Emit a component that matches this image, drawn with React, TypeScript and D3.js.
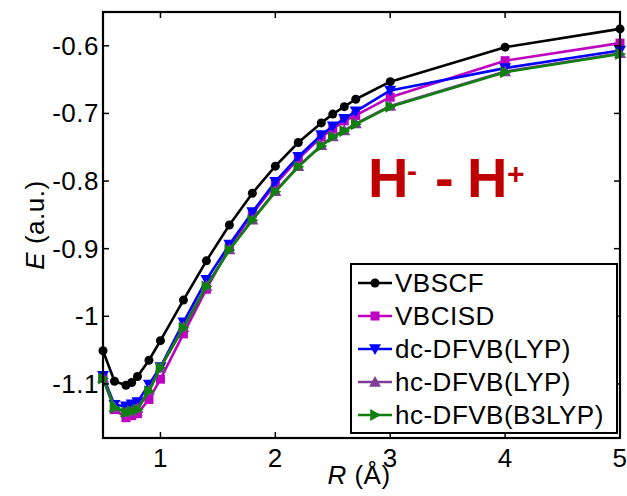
import React from "react";
import * as d3 from "d3";

// separation distances (Å)
const rValues = [0.5, 0.6, 0.7, 0.75, 0.8, 0.9, 1.0, 1.2, 1.4, 1.6, 1.8, 2.0, 2.2, 2.4, 2.5, 2.6, 2.7, 3.0, 4.0, 5.0];

// energies (a.u.)
const vbscf = [-1.051, -1.096, -1.102, -1.098, -1.089, -1.065, -1.036, -0.976, -0.918, -0.865, -0.818, -0.778, -0.743, -0.714, -0.701, -0.690, -0.679, -0.653, -0.602, -0.575];
const vbcisd = [-1.092, -1.138, -1.150, -1.147, -1.144, -1.123, -1.093, -1.026, -0.960, -0.898, -0.848, -0.805, -0.767, -0.735, -0.723, -0.711, -0.703, -0.676, -0.622, -0.596];
const dcLyp = [-1.088, -1.131, -1.133, -1.130, -1.127, -1.101, -1.075, -1.009, -0.946, -0.894, -0.846, -0.801, -0.764, -0.732, -0.719, -0.708, -0.697, -0.666, -0.633, -0.607];
const hcLyp = [-1.091, -1.135, -1.142, -1.140, -1.136, -1.109, -1.076, -1.016, -0.955, -0.901, -0.857, -0.815, -0.778, -0.747, -0.734, -0.725, -0.715, -0.689, -0.638, -0.611];
const hcB3lyp = [-1.092, -1.135, -1.142, -1.140, -1.138, -1.111, -1.076, -1.017, -0.956, -0.902, -0.858, -0.816, -0.779, -0.748, -0.735, -0.726, -0.716, -0.690, -0.639, -0.612];

const xTicks = [1, 2, 3, 4, 5];
const yTicks = [-1.1, -1, -0.9, -0.8, -0.7, -0.6];
const yTickLabels = ["-1.1", "-1", "-0.9", "-0.8", "-0.7", "-0.6"];

const seriesNames = ["VBSCF", "VBCISD", "dc-DFVB(LYP)", "hc-DFVB(LYP)", "hc-DFVB(B3LYP)"];
const seriesValues = [vbscf, vbcisd, dcLyp, hcLyp, hcB3lyp];
const seriesColors = ["#000000", "#c000c0", "#0000ff", "#7f3f98", "#0f800f"];
const seriesMarkers = ["circle", "square", "down", "up", "right"];

const W = 627;
const H = 496;
const margin = { top: 12, right: 7, bottom: 58, left: 103 };
const FONT = "'Liberation Sans', Arial, sans-serif";
const FS = 26;
const LS = 0.5;

const Marker = ({ type, x, y, color }: { type: string; x: number; y: number; color: string }) => {
  const s = 6;
  if (type === "circle") return <circle cx={x} cy={y} r={4.5} fill={color} />;
  if (type === "square") return <rect x={x - 4.5} y={y - 4.5} width={9} height={9} fill={color} />;
  let pts: number[][] = [];
  if (type === "down") pts = [[x - s, y - s * 0.8], [x + s, y - s * 0.8], [x, y + s]];
  if (type === "up") pts = [[x - s, y + s * 0.8], [x + s, y + s * 0.8], [x, y - s]];
  if (type === "right") pts = [[x - s * 0.8, y - s], [x - s * 0.8, y + s], [x + s, y]];
  return <polygon points={pts.map((p) => p.join(",")).join(" ")} fill={color} />;
};

export default function App() {
  const x = d3.scaleLinear().domain([0.5, 5]).range([margin.left, W - margin.right]);
  const y = d3.scaleLinear().domain([-1.18, -0.55]).range([H - margin.bottom, margin.top]);
  const line = d3
    .line<number>()
    .x((_, i) => x(rValues[i]))
    .y((d) => y(d));

  const x0 = margin.left;
  const x1 = W - margin.right;
  const y0 = margin.top;
  const y1 = H - margin.bottom;
  const tick = 6;

  const legX = 351;
  const legY = 264;
  const legW = 266;
  const legH = 169;
  const legRows = [283, 316, 349, 382, 415];

  return (
    <svg width={W} height={H} style={{ position: "absolute", left: 0, top: 0, background: "#fff" }} fontFamily={FONT}>
      {/* series */}
      {seriesValues.map((vals, k) => (
        <g key={k}>
          <path d={line(vals) || ""} fill="none" stroke={seriesColors[k]} strokeWidth={2.6} strokeLinejoin="round" />
          {vals.map((v, i) => (
            <Marker key={i} type={seriesMarkers[k]} x={x(rValues[i])} y={y(v)} color={seriesColors[k]} />
          ))}
        </g>
      ))}

      {/* title annotation */}
      <g fill="#c00000" fontWeight="bold">
        <text x={368} y={197} fontSize={56}>H</text>
        <text x={407} y={181} fontSize={30}>-</text>
        <text x={435} y={197} fontSize={56}>-</text>
        <text x={467} y={197} fontSize={56}>H</text>
        <text x={507} y={184} fontSize={30}>+</text>
      </g>

      {/* frame and ticks */}
      <rect x={x0} y={y0} width={x1 - x0} height={y1 - y0} fill="none" stroke="#000" strokeWidth={2.2} />
      {xTicks.map((t) => (
        <g key={t}>
          <line x1={x(t)} x2={x(t)} y1={y1} y2={y1 - tick} stroke="#000" strokeWidth={1.5} />
          <line x1={x(t)} x2={x(t)} y1={y0} y2={y0 + tick} stroke="#000" strokeWidth={1.5} />
          <text x={x(t)} y={467} fontSize={FS} letterSpacing={LS} textAnchor="middle">{t}</text>
        </g>
      ))}
      {yTicks.map((t, i) => (
        <g key={t}>
          <line x1={x0} x2={x0 + tick} y1={y(t)} y2={y(t)} stroke="#000" strokeWidth={1.5} />
          <line x1={x1} x2={x1 - tick} y1={y(t)} y2={y(t)} stroke="#000" strokeWidth={1.5} />
          <text x={99} y={y(t) + 9} fontSize={FS} letterSpacing={LS} textAnchor="end">{yTickLabels[i]}</text>
        </g>
      ))}

      {/* axis labels */}
      <text x={359} y={484} fontSize={FS} letterSpacing={LS} textAnchor="middle">
        <tspan fontStyle="italic">R</tspan> (Å)
      </text>
      <text transform={`translate(44, ${(y0 + y1) / 2}) rotate(-90)`} fontSize={FS} letterSpacing={LS} textAnchor="middle">
        <tspan fontStyle="italic">E</tspan> (a.u.)
      </text>

      {/* legend */}
      <rect x={legX} y={legY} width={legW} height={legH} fill="#fff" stroke="#000" strokeWidth={2} />
      {seriesNames.map((name, k) => (
        <g key={name}>
          <line x1={358} x2={392} y1={legRows[k]} y2={legRows[k]} stroke={seriesColors[k]} strokeWidth={2.6} />
          <Marker type={seriesMarkers[k]} x={375} y={legRows[k]} color={seriesColors[k]} />
          <text x={395} y={legRows[k] + 9} fontSize={FS} letterSpacing={LS}>{name}</text>
        </g>
      ))}
    </svg>
  );
}
